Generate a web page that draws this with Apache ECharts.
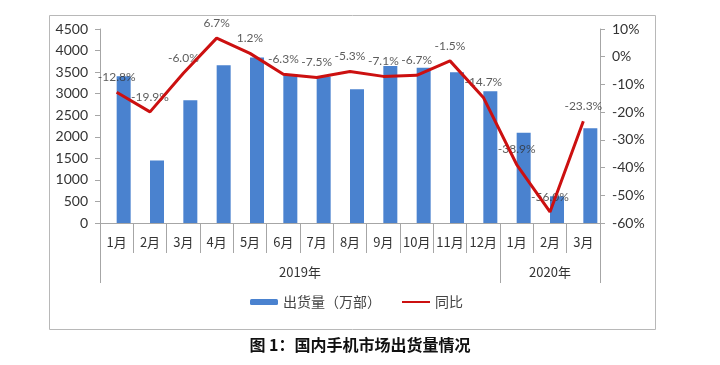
<!DOCTYPE html>
<html>
<head>
<meta charset="utf-8">
<script src="https://cdn.jsdelivr.net/npm/echarts@6/dist/echarts.min.js"></script>
<style>
html,body{margin:0;padding:0;background:#fff;}
#c{width:720px;height:365px;}
</style>
</head>
<body>
<div id="c"></div>
<script>
var months = ['1月','2月','3月','4月','5月','6月','7月','8月','9月','10月','11月','12月','1月','2月','3月'];
var years = ['2019年','2020年'];
var yearMonthCounts = [12, 3];
var shipments = [3404, 1450, 2850, 3658, 3840, 3455, 3400, 3100, 3640, 3600, 3495, 3055, 2095, 620, 2195];
var yoy = [-12.8, -19.9, -6.0, 6.7, 1.2, -6.3, -7.5, -5.3, -7.1, -6.7, -1.5, -14.7, -38.9, -56.0, -23.3];
var leftTicks = {min: 0, max: 4500, interval: 500};
var rightTicks = {min: -60, max: 10, interval: 10};

// year boundaries and centres derived from month counts
var yearBounds = [0], yearCentres = [], acc = 0;
yearMonthCounts.forEach(function (n) { yearCentres.push(acc + n / 2); acc += n; yearBounds.push(acc); });

var font = 'Lato, "Noto Sans CJK SC", sans-serif';
var cjk = '"Noto Sans CJK SC", sans-serif';
var axisGray = '#a6a6a6';
var red = '#cc1010';

var chart = echarts.init(document.getElementById('c'), null, {renderer: 'canvas'});
chart.setOption({
  animation: false,
  backgroundColor: '#fff',
  graphic: [{
    type: 'rect', left: 47, top: 13, silent: true,
    shape: {width: 606, height: 314},
    style: {fill: 'none', stroke: '#b8b8b8', lineWidth: 1}
  }],
  title: {
    text: '图 1：国内手机市场出货量情况',
    left: 'center', top: 332,
    textStyle: {fontFamily: cjk, fontSize: 16, fontWeight: 'bold', color: '#111'}
  },
  legend: {
    data: ['出货量（万部）', {name: '同比', itemStyle: {opacity: 0}}],
    top: 290, left: 245,
    itemGap: 20, itemWidth: 28, itemHeight: 6,
    textStyle: {fontFamily: cjk, fontSize: 14, color: '#444'}
  },
  grid: {left: 100, right: 120, top: 29, bottom: 142, containLabel: false},
  xAxis: [{
    type: 'category', data: months, position: 'bottom',
    axisLine: {onZero: false, lineStyle: {color: axisGray}},
    axisTick: {show: true, length: 30, lineStyle: {color: axisGray}},
    axisLabel: {interval: 0, margin: 13, fontFamily: cjk, fontSize: 13, color: '#333'}
  }, {
    type: 'value', position: 'bottom', min: 0, max: months.length,
    axisLine: {show: false, onZero: false},
    splitLine: {show: false},
    axisTick: {show: true, length: 60, customValues: yearBounds, lineStyle: {color: axisGray}},
    axisLabel: {
      customValues: yearCentres, margin: 43, fontFamily: cjk, fontSize: 13, color: '#333',
      formatter: function (v) { var i = yearCentres.indexOf(v); return i >= 0 ? years[i] : ''; }
    }
  }],
  yAxis: [{
    type: 'value', min: leftTicks.min, max: leftTicks.max, interval: leftTicks.interval,
    axisLine: {show: true, lineStyle: {color: axisGray}},
    axisTick: {show: true, length: 5, lineStyle: {color: axisGray}},
    splitLine: {show: false},
    axisLabel: {margin: 12, fontFamily: font, fontSize: 14, color: '#333', formatter: function (v) { return String(v); }}
  }, {
    type: 'value', position: 'right', min: rightTicks.min, max: rightTicks.max, interval: rightTicks.interval,
    axisLine: {show: true, lineStyle: {color: axisGray}},
    axisTick: {show: true, length: 5, lineStyle: {color: axisGray}},
    splitLine: {show: false},
    axisLabel: {margin: 12, fontFamily: font, fontSize: 14, color: '#333', formatter: '{value}%'}
  }],
  series: [{
    name: '_gap', type: 'bar', xAxisIndex: 0, yAxisIndex: 0,
    data: months.map(function () { return '-'; }),
    barWidth: 14, barGap: '0%', silent: true
  }, {
    name: '出货量（万部）', type: 'bar', xAxisIndex: 0, yAxisIndex: 0,
    data: shipments, barWidth: 14, barGap: '0%',
    itemStyle: {color: '#4a82cf'}
  }, {
    name: '_labels', type: 'scatter', xAxisIndex: 0, yAxisIndex: 1,
    data: yoy, symbolSize: 0, silent: true,
    itemStyle: {color: 'rgba(0,0,0,0)'},
    label: {
      show: true, position: 'top', distance: 9,
      fontFamily: font, fontSize: 12, color: '#333',
      formatter: function (p) { return p.value.toFixed(1) + '%'; }
    },
    z: 3
  }, {
    name: '同比', type: 'line', xAxisIndex: 0, yAxisIndex: 1,
    data: yoy, symbol: 'none',
    lineStyle: {color: red, width: 3},
    itemStyle: {color: red},
    z: 8
  }]
});
</script>
</body>
</html>
